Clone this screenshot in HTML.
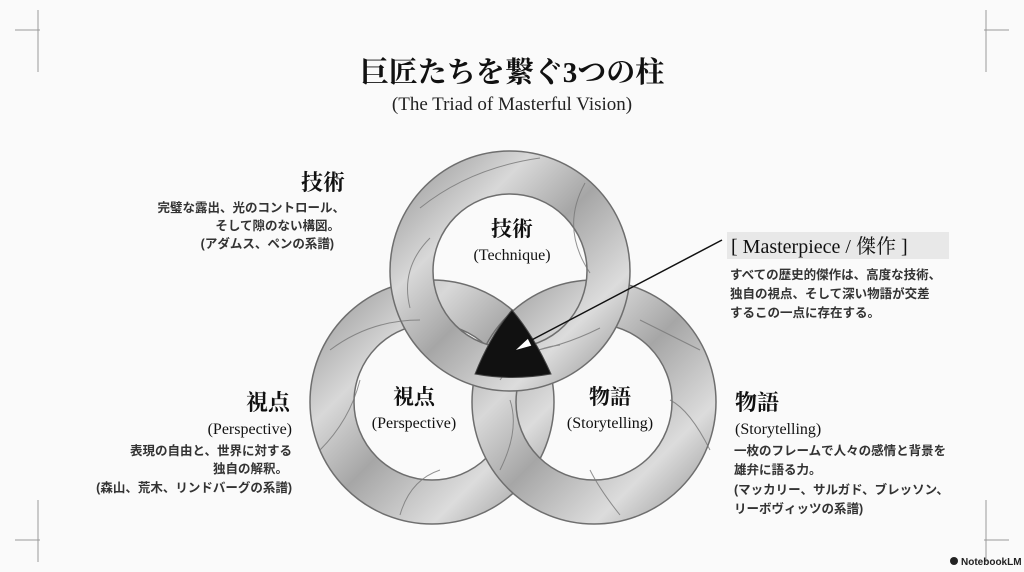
<!DOCTYPE html>
<html><head><meta charset="utf-8"><style>
html,body{margin:0;padding:0;background:#fafafa;}
svg{display:block}
.serif{font-family:"Liberation Serif","Noto Serif CJK SC",serif;}
.sans{font-family:"Liberation Sans","Noto Sans CJK JP",sans-serif;}
</style></head><body>
<svg width="1024" height="572" viewBox="0 0 1024 572" xmlns="http://www.w3.org/2000/svg">
<defs>
<linearGradient id="g" x1="0" y1="0" x2="1" y2="1">
<stop offset="0" stop-color="#8e8e8e"/><stop offset="0.3" stop-color="#d8d8d8"/><stop offset="0.5" stop-color="#a6a6a6"/><stop offset="0.75" stop-color="#dcdcdc"/><stop offset="1" stop-color="#8a8a8a"/>
</linearGradient>
</defs>
<rect width="1024" height="572" fill="#fafafa"/>
<g stroke="#999" stroke-width="1" fill="none">
<path d="M15 30H40M38 10V72"/><path d="M1009 30H984M986 10V72"/>
<path d="M15 540H40M38 500V562"/><path d="M1009 540H984M986 500V562"/>
</g>
<text x="512" y="82" text-anchor="middle" class="serif" font-size="29" font-weight="bold" fill="#111">巨匠たちを繋ぐ3つの柱</text>
<text x="512" y="110" text-anchor="middle" class="serif" font-size="19" fill="#222">(The Triad of Masterful Vision)</text>

<g stroke="#6e6e6e" stroke-width="1.5">
<path fill="url(#g)" fill-rule="evenodd" d="M310 402a122 122 0 1 0 244 0a122 122 0 1 0 -244 0ZM354 402a78 78 0 1 0 156 0a78 78 0 1 0 -156 0Z"/>
<path fill="url(#g)" fill-rule="evenodd" d="M472 402a122 122 0 1 0 244 0a122 122 0 1 0 -244 0ZM516 402a78 78 0 1 0 156 0a78 78 0 1 0 -156 0Z"/>
<path fill="url(#g)" fill-rule="evenodd" d="M390 271a120 120 0 1 0 240 0a120 120 0 1 0 -240 0ZM433 271a77 77 0 1 0 154 0a77 77 0 1 0 -154 0Z"/>
</g>
<g stroke="#777" stroke-width="1" fill="none" opacity="0.8">
<path d="M420 208Q470 168 540 158"/><path d="M585 183Q560 228 590 273"/><path d="M600 328Q560 348 520 353"/><path d="M410 308Q400 268 430 238"/>
<path d="M330 350Q370 320 420 320"/><path d="M320 450Q350 420 360 380"/><path d="M400 515Q410 480 440 470"/><path d="M500 470Q520 430 510 400"/>
<path d="M700 350Q660 330 640 320"/><path d="M710 450Q690 410 670 400"/><path d="M620 515Q600 490 590 470"/><path d="M500 380Q520 350 560 345"/>
</g>
<path d="M475 374Q490 336 512 310Q534 336 551 374Q512 381 475 374Z" fill="#111" stroke="#444"/>
<line x1="722" y1="240" x2="524" y2="344" stroke="#111" stroke-width="1.5"/>
<polygon points="514,351 528,338 532,346" fill="#fff" stroke="#111" stroke-width="1"/>

<g class="serif" fill="#111" text-anchor="middle">
<text x="512" y="236" font-size="21" font-weight="bold">技術</text>
<text x="512" y="260" font-size="16">(Technique)</text>
<text x="414" y="404" font-size="21" font-weight="bold">視点</text>
<text x="414" y="428" font-size="16">(Perspective)</text>
<text x="610" y="404" font-size="21" font-weight="bold">物語</text>
<text x="610" y="428" font-size="16">(Storytelling)</text>
</g>

<text x="345" y="190" text-anchor="end" class="serif" font-size="22" font-weight="bold" fill="#111">技術</text>
<g class="sans" font-size="12.5" font-weight="bold" fill="#333" text-anchor="end">
<text x="345" y="212">完璧な露出、光のコントロール、</text>
<text x="340" y="230">そして隙のない構図。</text>
<text x="334" y="248">(アダムス、ペンの系譜)</text>
</g>
<text x="290" y="410" text-anchor="end" class="serif" font-size="22" font-weight="bold" fill="#111">視点</text>
<text x="292" y="434" text-anchor="end" class="serif" font-size="16" fill="#111">(Perspective)</text>
<g class="sans" font-size="12.5" font-weight="bold" fill="#333" text-anchor="end">
<text x="292" y="455">表現の自由と、世界に対する</text>
<text x="288" y="473">独自の解釈。</text>
<text x="292" y="492">(森山、荒木、リンドバーグの系譜)</text>
</g>

<rect x="727" y="232" width="222" height="27" fill="#e8e8e8"/>
<text x="731" y="253" class="serif" font-size="20" fill="#111">[ Masterpiece / 傑作 ]</text>
<g class="sans" font-size="12.5" font-weight="bold" fill="#333">
<text x="730" y="279">すべての歴史的傑作は、高度な技術、</text>
<text x="730" y="298">独自の視点、そして深い物語が交差</text>
<text x="730" y="317">するこの一点に存在する。</text>
</g>
<text x="735" y="410" class="serif" font-size="22" font-weight="bold" fill="#111">物語</text>
<text x="735" y="434" class="serif" font-size="16" fill="#111">(Storytelling)</text>
<g class="sans" font-size="12.5" font-weight="bold" fill="#333">
<text x="734" y="455">一枚のフレームで人々の感情と背景を</text>
<text x="734" y="474">雄弁に語る力。</text>
<text x="734" y="494">(マッカリー、サルガド、ブレッソン、</text>
<text x="734" y="513">リーボヴィッツの系譜)</text>
</g>
<circle cx="954" cy="561" r="4" fill="#222"/>
<text x="961" y="565" class="sans" font-size="10" font-weight="bold" fill="#222">NotebookLM</text>
</svg>
</body></html>
